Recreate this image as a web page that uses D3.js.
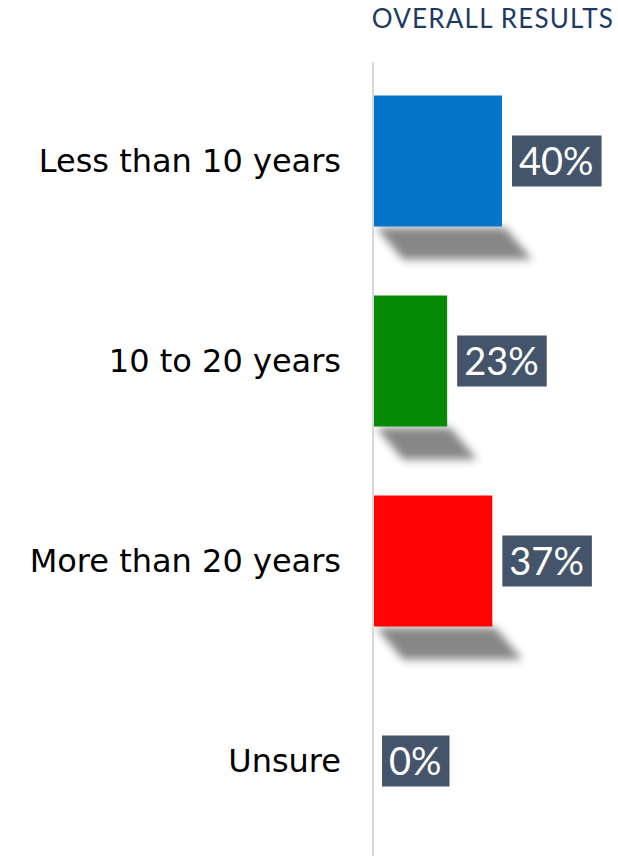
<!DOCTYPE html>
<html><head><meta charset="utf-8">
<script src="https://cdn.jsdelivr.net/npm/d3@7/dist/d3.min.js"></script>
<style>body{margin:0;background:#fff}svg{display:block}</style>
</head><body>
<script>
const categories = ["Less than 10 years", "10 to 20 years", "More than 20 years", "Unsure"];
const values = [40, 23, 37, 0];
const colors = ["#0575ca", "#058a05", "#fe0404", "#888888"];
const title = "OVERALL RESULTS";

const W = 618, H = 856;
const svg = d3.select("body").append("svg").attr("width", W).attr("height", H);
const defs = svg.append("defs");
defs.append("filter").attr("id","blur").attr("x","-30%").attr("y","-80%").attr("width","160%").attr("height","260%")
  .append("feGaussianBlur").attr("stdDeviation", 4);

const x = d3.scaleLinear().domain([0, 100]).range([373, 695.5]);
const y = d3.scaleBand().domain(categories).range([61, 861]).paddingInner(0.345).paddingOuter(0.1725);

// title
svg.append("text").attr("x", 614).attr("y", 28).attr("text-anchor","end")
  .attr("font-family","Lato").attr("font-size",26).attr("letter-spacing",1.2).attr("fill","#1d3a66").text(title);

// shadows
const sh = 32, sk = 27;
svg.append("g").selectAll("path").data(categories).join("path")
  .attr("d", (c,i) => {
    const x0 = x(0) + 3, x1 = x(values[i]) + 3, yb = y(c) + y.bandwidth() + 1;
    return `M${x0},${yb} L${x1},${yb} L${x1+sk},${yb+sh} L${x0+sk},${yb+sh} Z`;
  })
  .attr("fill", "#808080").attr("opacity", 0.95).attr("filter","url(#blur)");

// bars
svg.append("g").selectAll("rect").data(categories).join("rect")
  .attr("x", x(0)).attr("y", c => y(c))
  .attr("width", (c,i) => x(values[i]) - x(0))
  .attr("height", y.bandwidth())
  .attr("fill", (c,i) => colors[i]);

// axis line
svg.append("line").attr("x1", x(0)).attr("x2", x(0)).attr("y1", 62).attr("y2", H)
  .attr("stroke","#d9d9d9").attr("stroke-width",2);

// category labels
svg.append("g").selectAll("text").data(categories).join("text")
  .attr("x", 341).attr("y", c => y(c) + y.bandwidth()/2)
  .attr("dy","0.35em").attr("text-anchor","end")
  .attr("font-family","DejaVu Sans").attr("font-size",32).attr("fill","#000")
  .text(c => c);

// value labels
const lg = svg.append("g").selectAll("g").data(categories).join("g");
lg.each(function(c,i){
  const g = d3.select(this);
  const cx = y(c) + y.bandwidth()/2;
  const bx = x(values[i]) + (values[i] > 0 ? 10 : 9);
  const rect = g.append("rect").attr("fill","#44546a");
  const t = g.append("text").attr("x", bx + 7).attr("y", cx).attr("dy","0.36em")
    .attr("font-family","Lato").attr("font-size",38).attr("fill","#fff")
    .text(values[i] + "%");
  const bb = t.node().getBBox();
  rect.attr("x", bx).attr("y", cx - 25.5).attr("width", bb.width + 15).attr("height", 51);
});
</script>
</body></html>
